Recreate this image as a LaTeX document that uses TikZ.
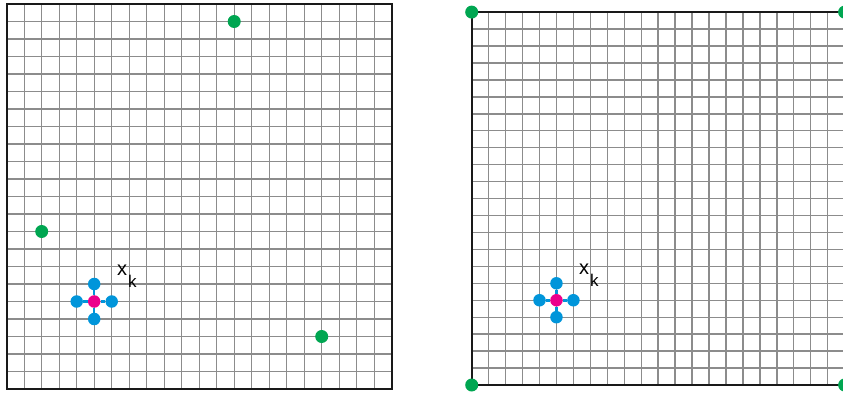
\documentclass[tikz,border=0pt]{standalone}
\usepackage{fontspec}
\setmainfont{Liberation Sans}
\definecolor{ptgreen}{HTML}{00A651}
\definecolor{ptblue}{HTML}{0095DA}
\definecolor{ptmag}{HTML}{EC008C}
\tikzset{
  gridline/.style={draw=black!45, line width=1.4pt},
  frame/.style={draw=black!90, line width=2pt},
  dotgreen/.style={circle, fill=ptgreen, minimum size=13pt, inner sep=0pt},
  dotblue/.style={circle, fill=ptblue, minimum size=12.5pt, inner sep=0pt},
  dotmag/.style={circle, fill=ptmag, minimum size=12.5pt, inner sep=0pt},
  nbr/.style={draw=ptblue, line width=2.5pt},
  lab/.style={anchor=base west, inner sep=0pt, font=\fontsize{20}{20}\selectfont}
}
\newcommand{\xklabel}{x\kern1pt\raisebox{-12pt}{\fontsize{17}{17}\selectfont k}}
\begin{document}
\begin{tikzpicture}[x=1pt,y=1pt]
\useasboundingbox (0,0) rectangle (843,392);
% left panel
\begin{scope}[shift={(6.7,3)}, x=17.5pt, y=17.5pt]
  \foreach \i in {1,...,21} {
    \draw[gridline] (\i,0) -- (\i,22);
    \draw[gridline] (0,\i) -- (22,\i);
  }
  \draw[frame] (0,0) rectangle (22,22);
  \node[dotgreen] (g1) at (13,21) {};
  \node[dotgreen] (g2) at (2,9) {};
  \node[dotgreen] (g3) at (18,3) {};
  \node[dotmag] (m) at (5,5) {};
  \node[dotblue] (bl) at (4,5) {};
  \node[dotblue] (br) at (6,5) {};
  \node[dotblue] (bu) at (5,6) {};
  \node[dotblue] (bd) at (5,4) {};
  \draw[nbr] (m) -- (bl);
  \draw[nbr] (m) -- (br);
  \draw[nbr] (m) -- (bu);
  \draw[nbr] (m) -- (bd);
  \node[lab] (xk) at (6.3,6.51) {\xklabel};
\end{scope}
% right panel
\begin{scope}[shift={(471.7,7)}, x=16.95pt, y=16.95pt]
  \foreach \i in {1,...,21} {
    \draw[gridline] (\i,0) -- (\i,22);
    \draw[gridline] (0,\i) -- (22,\i);
  }
  \draw[frame] (0,0) rectangle (22,22);
  \node[dotgreen] (c1) at (0,0) {};
  \node[dotgreen] (c2) at (22,0) {};
  \node[dotgreen] (c3) at (0,22) {};
  \node[dotgreen] (c4) at (22,22) {};
  \node[dotmag] (m2) at (5,5) {};
  \node[dotblue] (bl2) at (4,5) {};
  \node[dotblue] (br2) at (6,5) {};
  \node[dotblue] (bu2) at (5,6) {};
  \node[dotblue] (bd2) at (5,4) {};
  \draw[nbr] (m2) -- (bl2);
  \draw[nbr] (m2) -- (br2);
  \draw[nbr] (m2) -- (bu2);
  \draw[nbr] (m2) -- (bd2);
  \node[lab] (xk2) at (6.33,6.49) {\xklabel};
\end{scope}
\end{tikzpicture}
\end{document}
